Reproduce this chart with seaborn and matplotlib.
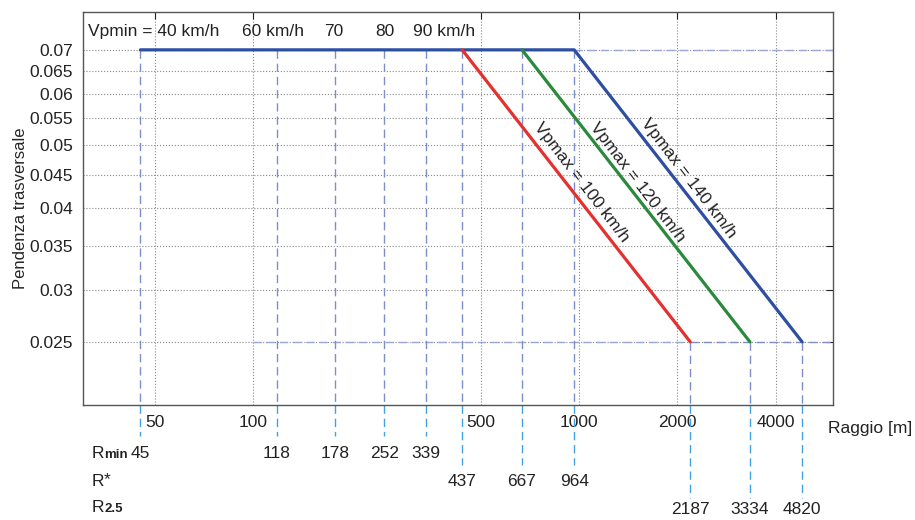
import matplotlib
matplotlib.use("Agg")
import matplotlib.pyplot as plt
import matplotlib.transforms as mtransforms
from matplotlib.ticker import FixedLocator, FixedFormatter, NullLocator
import pandas as pd
import seaborn as sns

# curves: radius [m] vs cross slope
blue_x = [45, 964, 4820]
blue_y = [0.07, 0.07, 0.025]
red_x = [437, 2187]
red_y = [0.07, 0.025]
green_x = [667, 3334]
green_y = [0.07, 0.025]

# radius marks
r_min = [45, 118, 178, 252, 339]
r_star = [437, 667, 964]
r_25 = [2187, 3334, 4820]

vpmin_labels = ["Vpmin = 40 km/h", "60 km/h", "70", "80", "90 km/h"]
vpmin_pos = [31, 115, 176, 253, 384]

x_ticks = [50, 100, 500, 1000, 2000, 4000]
y_ticks = [0.025, 0.03, 0.035, 0.04, 0.045, 0.05, 0.055, 0.06, 0.065, 0.07]
y_labels = ["0.025", "0.03", "0.035", "0.04", "0.045", "0.05", "0.055", "0.06", "0.065", "0.07"]

sns.set_style("white")
plt.rcParams["font.family"] = ["Liberation Sans", "DejaVu Sans"]
plt.rcParams["font.size"] = 12.5

df = pd.concat([
    pd.DataFrame({"R": blue_x, "p": blue_y, "serie": "140"}),
    pd.DataFrame({"R": red_x, "p": red_y, "serie": "100"}),
    pd.DataFrame({"R": green_x, "p": green_y, "serie": "120"}),
])
colors = {"140": "#2d4ea2", "100": "#e5302e", "120": "#2a8a3c"}

fig = plt.figure(figsize=(9.15, 5.2), dpi=100)
ax = fig.add_axes([83 / 915, 1 - 405 / 520, 750 / 915, 393 / 520])
ax.set_xscale("log")
ax.set_yscale("log")
ax.set_xlim(30, 6000)
ax.set_ylim(0.02, 0.08)

dash_in = "#7d8fc6"
dash_out = "#45a0e0"
dk = dict(lw=1.0, dashes=(6, 3.5))

# dashed reference lines inside the plot
ax.plot([964, 6000], [0.07, 0.07], color="#9aa8d4", **dk)
ax.plot([100, 2187], [0.025, 0.025], color="#9aa8d4", **dk)
ax.plot([2187, 6000], [0.025, 0.025], color=dash_in, **dk)
for r in r_min + r_star:
    ax.plot([r, r], [0.07, 0.02], color=dash_in, **dk)
for r in r_25:
    ax.plot([r, r], [0.025, 0.02], color=dash_in, **dk)

# extensions below the axes
tr = mtransforms.blended_transform_factory(ax.transData, ax.transAxes)
for vals, low in [(r_min, -0.08), (r_star, -0.153), (r_25, -0.237)]:
    for r in vals:
        ax.plot([r, r], [0, low], color=dash_out, transform=tr, clip_on=False, zorder=1, **dk)

sns.lineplot(data=df, x="R", y="p", hue="serie", palette=colors, sort=False,
             estimator=None, lw=2.3, legend=False, ax=ax, zorder=3)

ax.xaxis.set_major_locator(FixedLocator(x_ticks))
ax.xaxis.set_major_formatter(FixedFormatter([str(v) for v in x_ticks]))
ax.xaxis.set_minor_locator(NullLocator())
ax.yaxis.set_major_locator(FixedLocator(y_ticks))
ax.yaxis.set_major_formatter(FixedFormatter(y_labels))
ax.yaxis.set_minor_locator(NullLocator())
ax.tick_params(direction="in", top=True, right=True, length=5, width=0.8,
               pad=7, colors="#222222", labelcolor="#222222")
ax.grid(True, ls=":", color="#888888", lw=0.8)
for s in ax.spines.values():
    s.set_color("#555555")
    s.set_linewidth(1.0)
for lbl in ax.get_xticklabels():
    lbl.set_bbox(dict(fc="white", ec="none", pad=1))

ax.set_xlabel("")
ax.set_ylabel("Pendenza trasversale", fontsize=12)
ax.yaxis.set_label_coords(-0.073, 0.5)

# speed labels on top
for t, x in zip(vpmin_labels, vpmin_pos):
    ax.text(x, 0.0748, t, ha="left" if x == vpmin_pos[0] else "center", va="center",
            color="#222222")

# rotated labels along the slopes
ax.text(1014, 0.0439, "Vpmax = 100 km/h", rotation=-52.5, ha="center", va="center",
        rotation_mode="anchor", color="#222222")
ax.text(1508, 0.0439, "Vpmax = 120 km/h", rotation=-52.5, ha="center", va="center",
        rotation_mode="anchor", color="#222222")
ax.text(2163, 0.04455, "Vpmax = 140 km/h", rotation=-52.5, ha="center", va="center",
        rotation_mode="anchor", color="#222222")

# radius values under the axes
rows = [("min", r_min, -0.135), ("*", r_star, -0.205), ("2.5", r_25, -0.272)]
for sub, vals, yy in rows:
    ax.text(0.012, yy, "R", transform=ax.transAxes, ha="left", va="baseline", color="#222222")
    if sub == "*":
        ax.annotate("*", (0.012, yy), xycoords=ax.transAxes, xytext=(8.6, 1),
                    textcoords="offset points", ha="left", va="baseline", color="#222222")
    else:
        ax.annotate(sub, (0.012, yy), xycoords=ax.transAxes, xytext=(8.8, 0),
                    textcoords="offset points", ha="left", va="baseline",
                    fontsize=9.5, fontweight="bold", color="#222222")
    for r in vals:
        ax.text(r, yy - (0.005 if sub == "2.5" else 0), str(r), transform=tr,
                ha="center", va="baseline", color="#222222")

fig.text(828 / 915, 1 - 428 / 520, "Raggio [m]", ha="left", va="center", color="#222222")

fig.savefig("out.png", dpi=100, facecolor="white")
